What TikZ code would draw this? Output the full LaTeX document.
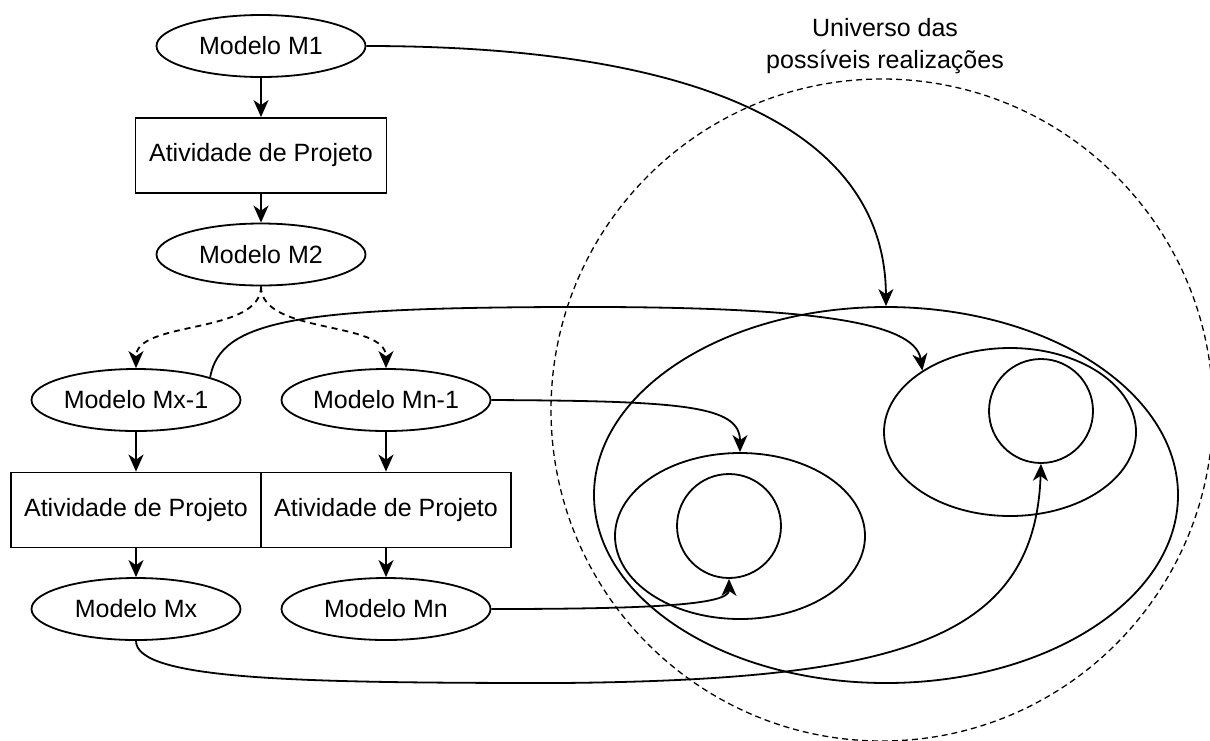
\documentclass[tikz,border=0pt]{standalone}
\usepackage{fontspec}
\setmainfont{Liberation Sans}
\usetikzlibrary{shapes.geometric,arrows.meta}
\begin{document}
\begin{tikzpicture}[x=1pt,y=-1pt,
  every node/.style={font=\fontsize{25}{32}\selectfont},
  mdl/.style={draw, ellipse, line width=1.8pt, minimum width=209pt, minimum height=62pt, inner sep=0pt, fill=white},
  act/.style={draw, rectangle, line width=1.8pt, minimum width=250pt, minimum height=75pt, inner sep=0pt, fill=white},
  ring/.style={draw, ellipse, line width=1.8pt, inner sep=0pt},
  univ/.style={draw, circle, line width=1.3pt, dash pattern=on 6pt off 4pt, minimum size=662pt, inner sep=0pt},
  flow/.style={line width=1.8pt, -{Stealth[length=17pt,width=15pt,inset=5pt]}},
  alt/.style={flow, dash pattern=on 6pt off 5pt},
]
\useasboundingbox (0,0) rectangle (1210,740);

% universe
\node[univ] (U) at (882,410) {};
\node[align=center] (Ut) at (885,46) {Universo das\\possíveis realizações};

% nested shapes
\node[ring, minimum width=584pt, minimum height=376pt] (big) at (886,495) {};
\node[ring, minimum width=252pt, minimum height=168pt] (medR) at (1010,432) {};
\node[ring, minimum width=104pt, minimum height=104pt] (smallR) at (1041,411) {};
\node[ring, minimum width=250pt, minimum height=166pt] (medL) at (740,536) {};
\node[ring, minimum width=104pt, minimum height=104pt] (smallL) at (729,526) {};

% flow column
\node[mdl] (M1) at (261,46) {Modelo M1};
\node[act, minimum width=251pt] (A1) at (261,155.5) {Atividade de Projeto};
\node[mdl] (M2) at (261,254.5) {Modelo M2};
\node[mdl] (Mx1) at (136,400) {Modelo Mx-1};
\node[mdl] (Mn1) at (386,400) {Modelo Mn-1};
\node[act] (Ax) at (136,510) {Atividade de Projeto};
\node[act] (An) at (386,510) {Atividade de Projeto};
\node[mdl] (Mx) at (136,609) {Modelo Mx};
\node[mdl] (Mn) at (386,609) {Modelo Mn};

% connectors
\draw[flow] (M1) -- (A1);
\draw[flow] (A1) -- (M2);
\draw[alt] (M2.south) .. controls (261,335) and (136,320) .. (Mx1.north);
\draw[alt] (M2.south) .. controls (261,335) and (386,320) .. (Mn1.north);
\draw[flow] (Mx1) -- (Ax);
\draw[flow] (Ax) -- (Mx);
\draw[flow] (Mn1) -- (An);
\draw[flow] (An) -- (Mn);

\draw[flow] (M1.east) .. controls (700,46) and (885,130) .. (big.north);
\draw[flow] (Mx1.17) .. controls (220,320) and (300,308) .. (560,307) .. controls (800,306) and (915,320) .. (medR.145);
\draw[flow] (Mn1.east) .. controls (680,401) and (740,405) .. (medL.north);
\draw[flow] (Mn.east) .. controls (650,609) and (729,605) .. (smallL.south);
\draw[flow] (Mx.south) .. controls (136,680) and (300,683) .. (560,683) .. controls (900,680) and (1035,640) .. (smallR.south);
\end{tikzpicture}
\end{document}
